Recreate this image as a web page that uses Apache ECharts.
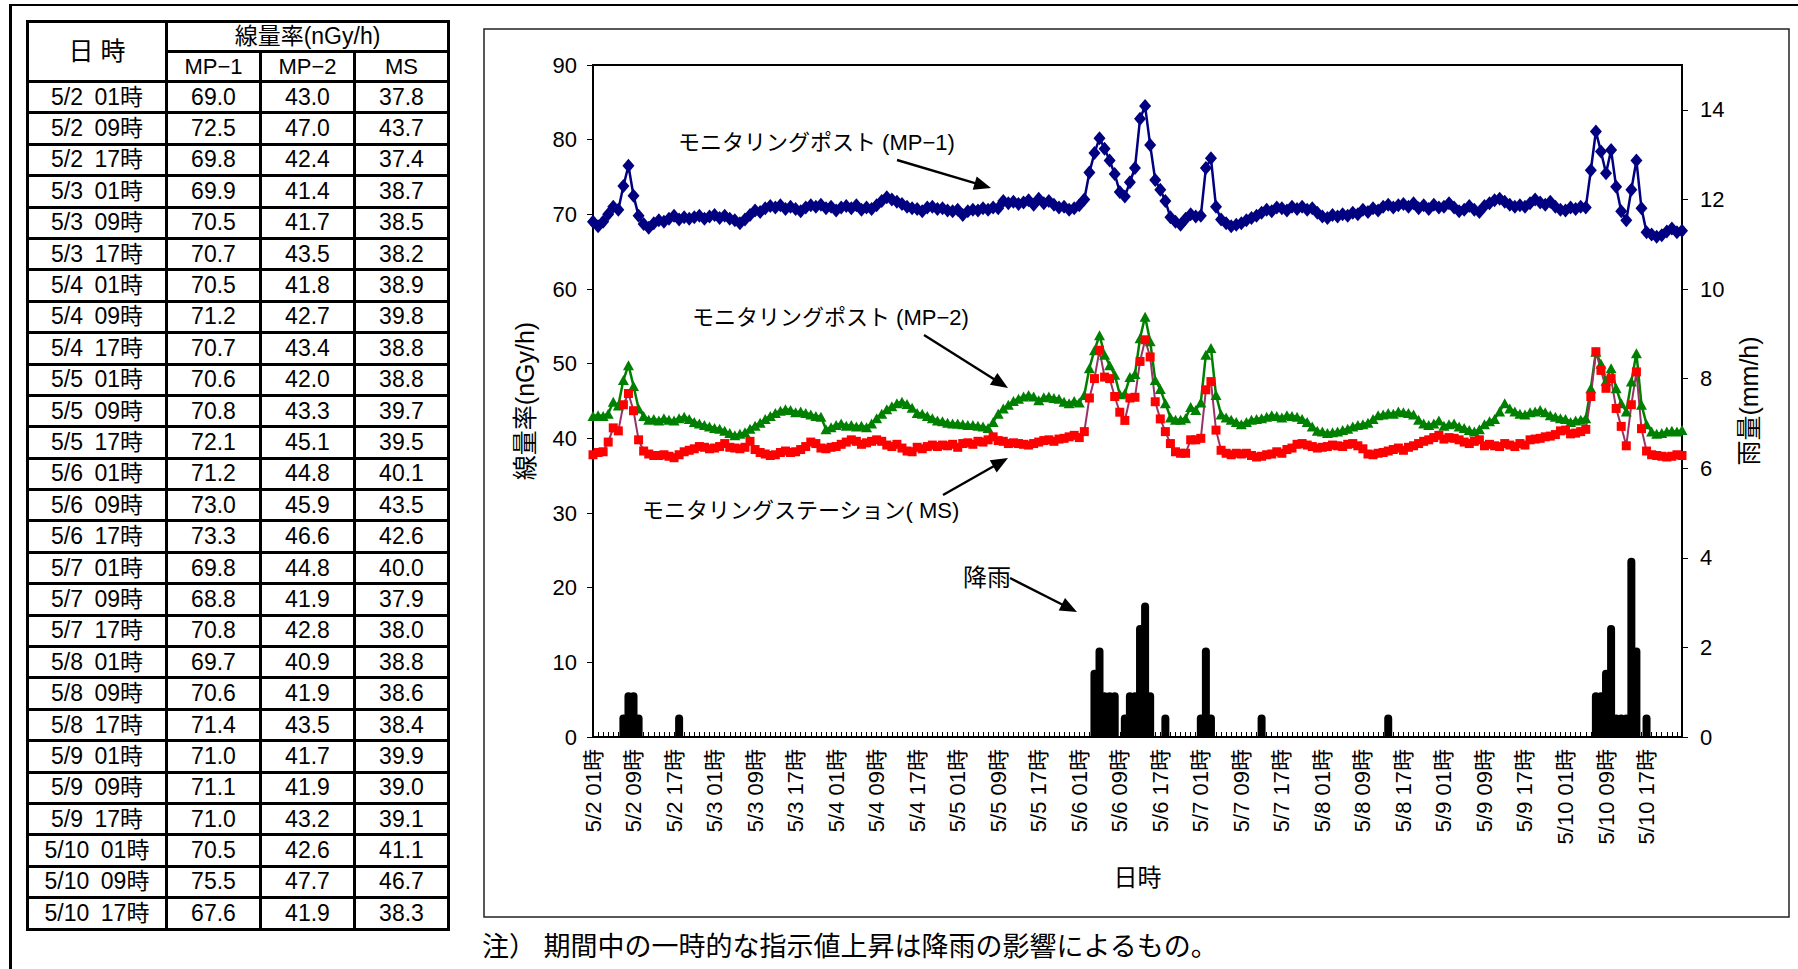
<!DOCTYPE html>
<html><head><meta charset="utf-8">
<script src="https://cdn.jsdelivr.net/npm/echarts@6/dist/echarts.min.js"></script>
<style>
html,body{margin:0;padding:0;background:#fff;}
#wrap{position:relative;width:1798px;height:969px;overflow:hidden;}
#chart{position:absolute;left:0;top:0;width:1798px;height:969px;}
#frame{position:absolute;left:9px;top:4px;width:1820px;height:1000px;border-top:2px solid #000;border-left:3px solid #000;box-sizing:border-box;}
#tbl{position:absolute;left:26px;top:20px;width:421px;height:908px;border-collapse:collapse;table-layout:fixed;
 font-family:"Liberation Sans","Noto Sans CJK JP",sans-serif;color:#000;z-index:5;}
#tbl td{border:3px solid #000;text-align:center;vertical-align:middle;padding:0;font-size:23px;line-height:1;white-space:nowrap;}
</style></head>
<body>
<div id="wrap">
<div id="chart"></div>
<div id="frame"></div>
<table id="tbl"></table>
</div>
<script>
// ---- data (hourly, 5/2 01時 .. 5/11 00時) ----
const mp1 = [
 69.0,68.4,69.0,70.0,71.0,70.6,73.8,76.5, 72.5,69.8,68.7,68.2,68.8,69.2,69.0,69.4,
 69.8,69.3,69.6,69.4,69.6,69.8,69.4,69.7, 69.9,69.5,69.8,69.4,69.2,68.8,69.3,69.9,
 70.5,70.3,70.8,71.1,70.9,71.2,70.7,71.0, 70.7,70.4,70.9,71.2,71.0,71.3,70.8,71.0,
 70.5,70.9,71.1,70.8,71.2,70.6,70.9,70.7, 71.2,71.8,72.3,72.0,71.7,71.4,71.0,70.8,
 70.7,70.4,70.9,71.0,70.7,70.8,70.5,70.4, 70.6,69.9,70.4,70.6,70.5,70.8,70.6,70.9,
 70.8,71.8,71.5,71.7,71.4,71.6,71.9,71.3, 72.1,71.5,71.8,71.3,70.9,71.0,70.6,70.8,
 71.2,72.0,75.6,78.2,80.2,78.8,77.2,75.4, 73.0,72.4,74.3,76.2,82.8,84.5,79.3,74.6,
 73.3,71.8,69.6,69.0,68.6,69.4,70.0,69.7, 69.8,76.2,77.5,71.0,69.3,68.8,68.4,68.6,
 68.8,69.2,69.5,69.8,70.2,70.6,70.4,70.9, 70.8,70.5,71.0,70.7,71.0,70.6,70.8,70.2,
 69.7,69.5,69.9,69.7,70.0,69.8,70.2,70.0, 70.6,70.3,70.8,70.5,71.0,71.3,70.9,71.2,
 71.4,71.0,71.5,70.8,71.2,70.7,71.3,70.9, 71.0,71.5,70.9,70.4,70.6,71.1,70.6,70.3,
 71.1,71.5,71.9,72.1,71.7,71.3,71.0,71.2, 71.0,71.5,72.0,71.6,71.3,71.7,71.0,70.6,
 70.5,70.9,70.7,71.0,70.9,75.9,81.1,78.4, 75.5,78.6,73.7,70.4,69.2,73.3,77.2,70.8,
 67.6,67.3,67.0,67.2,67.7,68.1,67.6,67.8
];
const mp2 = [
 43.0,43.1,43.0,43.3,44.9,44.4,47.8,49.8, 47.0,44.0,43.0,42.5,42.6,42.4,42.7,42.5,
 42.4,42.7,42.9,42.6,42.2,42.0,41.8,41.6, 41.4,41.3,41.0,40.7,40.4,40.6,40.8,41.3,
 41.7,42.1,42.6,43.0,43.4,43.7,43.9,43.8, 43.5,43.6,43.4,43.2,43.0,42.9,41.2,41.5,
 41.8,42.0,41.7,41.8,41.6,41.7,41.5,42.0, 42.7,43.3,43.9,44.3,44.7,44.9,44.6,44.1,
 43.4,43.3,43.0,42.7,42.4,42.3,42.1,42.0, 42.0,41.9,41.8,41.8,41.7,41.6,41.4,42.2,
 43.3,44.0,44.5,45.0,45.3,45.6,45.8,45.6, 45.1,45.5,45.6,45.4,45.3,44.9,44.7,45.0,
 44.8,45.8,49.4,51.8,53.8,51.2,49.8,48.5, 45.9,46.0,48.2,48.6,53.4,56.3,53.0,47.8,
 46.6,44.7,42.8,42.5,42.5,42.7,44.2,43.8, 44.8,51.2,52.1,45.8,43.2,42.8,42.5,42.2,
 41.9,42.2,42.5,42.6,42.7,42.9,43.1,43.0, 42.8,43.1,43.0,42.9,42.6,42.2,41.6,41.0,
 40.9,40.7,40.8,40.9,41.1,41.3,41.6,41.8, 41.9,42.1,42.6,43.1,43.2,43.4,43.3,43.6,
 43.5,43.4,43.2,42.5,42.0,41.8,42.0,42.4, 41.7,41.9,42.0,41.6,41.4,41.1,40.9,41.2,
 41.9,42.3,42.6,43.6,44.7,44.0,43.6,43.3, 43.2,43.5,43.6,43.8,43.5,43.1,42.9,42.7,
 42.6,42.2,42.4,42.5,42.7,46.7,51.6,50.0, 47.7,49.4,46.7,44.7,43.6,47.6,51.4,44.5,
 41.9,40.9,40.6,40.7,40.9,41.0,40.9,41.1
];
const ms = [
 37.8,38.1,38.2,39.5,41.4,41.0,44.5,46.0, 43.7,39.8,38.3,37.9,37.7,37.7,37.8,37.6,
 37.4,37.8,38.2,38.4,38.6,38.9,38.8,38.6, 38.7,38.9,39.3,38.8,38.7,38.6,38.8,39.6,
 38.5,38.1,37.9,37.7,37.8,38.1,38.3,38.1, 38.2,38.5,38.9,39.5,39.3,38.7,38.6,38.8,
 38.9,39.2,39.5,39.8,39.6,39.2,39.4,39.6, 39.8,39.6,39.1,38.9,39.2,38.7,38.3,38.2,
 38.8,38.6,38.9,39.1,38.9,39.1,39.0,39.2, 38.8,39.3,39.4,39.2,39.6,39.5,39.8,40.2,
 39.7,39.6,39.3,39.4,39.3,39.2,39.1,39.3, 39.5,39.7,39.8,39.6,39.9,40.0,40.2,40.4,
 40.1,40.9,45.4,48.0,51.8,48.2,48.0,45.6, 43.5,42.4,45.4,45.5,50.3,53.2,50.9,44.9,
 42.6,40.9,39.3,38.2,38.0,38.0,39.8,39.8, 40.0,46.5,47.6,41.1,38.4,38.0,37.8,38.0,
 37.9,38.0,37.7,37.5,37.6,37.8,37.9,38.2, 38.0,38.5,38.7,39.2,39.3,39.1,38.9,38.7,
 38.8,38.9,39.1,39.0,38.9,39.2,39.3,39.0, 38.6,37.9,37.8,38.0,38.1,38.3,38.5,38.7,
 38.4,38.8,39.0,39.3,39.6,39.8,40.1,40.4, 39.9,40.1,40.0,39.8,39.5,39.3,39.6,39.8,
 39.0,39.2,39.0,38.9,39.3,39.1,38.9,39.3, 39.1,39.8,39.9,40.0,40.2,40.3,40.5,41.0,
 41.1,40.6,40.7,40.9,41.2,45.6,51.6,49.1, 46.7,48.0,44.0,41.6,39.0,44.5,48.9,41.3,
 38.3,37.8,37.7,37.6,37.5,37.6,37.8,37.7
];
const rain = [
 0,0,0,0,0,0,0.5,1,1,0.5,0,0,0,0,0,0,0,0.5,0,0,0,0,0,0,
 0,0,0,0,0,0,0,0,0,0,0,0,0,0,0,0,0,0,0,0,0,0,0,0,
 0,0,0,0,0,0,0,0,0,0,0,0,0,0,0,0,0,0,0,0,0,0,0,0,
 0,0,0,0,0,0,0,0,0,0,0,0,0,0,0,0,0,0,0,0,0,0,0,0,
 0,0,0,1.5,2,1,1,1,0,0.5,1,1,2.5,3,1,0,0,0.5,0,0,0,0,0,0,
 0.5,2,0.5,0,0,0,0,0,0,0,0,0,0.5,0,0,0,0,0,0,0,0,0,0,0,
 0,0,0,0,0,0,0,0,0,0,0,0,0,0.5,0,0,0,0,0,0,0,0,0,0,
 0,0,0,0,0,0,0,0,0,0,0,0,0,0,0,0,0,0,0,0,0,0,0,0,
 0,0,0,0,0,0,1,1,1.5,2.5,0.5,0.5,0.5,4,2,0,0.5,0,0,0,0,0,0,0
];
// categories: hourly timestamps
const categories = [];
const tableLabels = [];
for (let i = 0; i < mp1.length; i++) {
  const t = i + 1, d = 2 + Math.floor(t / 24), h = String(t % 24).padStart(2, '0');
  categories.push(`5/${d} ${h}時`);
  tableLabels.push(`5/${d}\u2002${h}時`);
}
const labelStep = 8;

// ---- table ----
const tbl = document.getElementById('tbl');
let html = '<colgroup><col style="width:139px"><col style="width:94px"><col style="width:94px"><col style="width:94px"></colgroup>';
html += '<tr style="height:30px"><td rowspan="2" style="font-size:25px">日 時</td><td colspan="3" style="font-size:23px">線量率(nGy/h)</td></tr>';
html += '<tr style="height:30px"><td style="font-size:22px">MP−1</td><td style="font-size:22px">MP−2</td><td style="font-size:22px">MS</td></tr>';
for (let i = 0; i < mp1.length; i += labelStep) {
  html += `<tr style="height:31.4px"><td>${tableLabels[i]}</td><td>${mp1[i].toFixed(1)}</td><td>${mp2[i].toFixed(1)}</td><td>${ms[i].toFixed(1)}</td></tr>`;
}
tbl.innerHTML = html;

// ---- chart ----
const FONT = '"Liberation Sans","Noto Sans CJK JP",sans-serif';
function arrow(x1, y1, x2, y2) {
  const dx = x2 - x1, dy = y2 - y1, L = Math.hypot(dx, dy), ux = dx / L, uy = dy / L;
  const hl = 17, hw = 7;
  const bx = x2 - ux * hl, by = y2 - uy * hl;
  return [
    {type: 'line', z: 100, shape: {x1: x1, y1: y1, x2: bx + ux * 2, y2: by + uy * 2}, style: {stroke: '#000', lineWidth: 2.4}},
    {type: 'polygon', z: 100, shape: {points: [[x2, y2], [bx - uy * hw, by + ux * hw], [bx + uy * hw, by - ux * hw]]}, style: {fill: '#000'}}
  ];
}
function label(text, x, y, size) {
  return {type: 'text', z: 100, x: x, y: y, style: {text: text, fill: '#000', font: `${size}px ${FONT}`, verticalAlign: 'middle', align: 'left'}};
}
const chart = echarts.init(document.getElementById('chart'), null, {renderer: 'svg', width: 1798, height: 969});
const axisText = {color: '#000', fontSize: 22, fontFamily: FONT};
chart.setOption({
  animation: false,
  backgroundColor: 'transparent',
  textStyle: {fontFamily: FONT, color: '#000'},
  grid: {left: 593, top: 65, right: 116, bottom: 232, show: true, borderColor: '#000', borderWidth: 2, backgroundColor: 'transparent', containLabel: false},
  xAxis: {
    type: 'category', data: categories, boundaryGap: false,
    axisLine: {lineStyle: {color: '#000', width: 2}},
    axisTick: {show: true, inside: true, interval: 0, length: 5, lineStyle: {color: '#000', width: 1}},
    axisLabel: Object.assign({interval: labelStep - 1, rotate: 90, margin: 12}, axisText),
    splitLine: {show: false},
    name: '日時', nameLocation: 'middle', nameGap: 128,
    nameTextStyle: {fontSize: 24, color: '#000', fontFamily: FONT}
  },
  yAxis: [{
    type: 'value', min: 0, max: 90, interval: 10,
    axisLine: {show: true, lineStyle: {color: '#000', width: 2}},
    axisTick: {show: true, inside: false, length: 6, lineStyle: {color: '#000', width: 1}},
    axisLabel: Object.assign({margin: 16}, axisText),
    splitLine: {show: false},
    name: '線量率(nGy/h)', nameLocation: 'middle', nameGap: 56, nameRotate: 90,
    nameTextStyle: {fontSize: 25, color: '#000', fontFamily: FONT}
  }, {
    type: 'value', min: 0, max: 15, interval: 2, position: 'right',
    axisLine: {show: true, lineStyle: {color: '#000', width: 2}},
    axisTick: {show: true, inside: false, length: 6, lineStyle: {color: '#000', width: 1}},
    axisLabel: Object.assign({margin: 18, showMaxLabel: false}, axisText),
    splitLine: {show: false},
    name: '雨量(mm/h)', nameLocation: 'middle', nameGap: 54, nameRotate: 90,
    nameTextStyle: {fontSize: 25, color: '#000', fontFamily: FONT}
  }],
  series: [
    {name: '降雨', type: 'bar', yAxisIndex: 1, data: rain, barWidth: 8, silent: true,
     itemStyle: {color: '#000', borderRadius: [4, 4, 0, 0]}},
    {name: 'MP-1', type: 'line', yAxisIndex: 0, data: mp1, silent: true, showAllSymbol: true,
     symbol: 'diamond', symbolSize: [12, 14],
     lineStyle: {color: '#000080', width: 2.5}, itemStyle: {color: '#000080'}},
    {name: 'MP-2', type: 'line', yAxisIndex: 0, data: mp2, silent: true, showAllSymbol: true,
     symbol: 'triangle', symbolSize: [11, 10],
     lineStyle: {color: '#008000', width: 2.5}, itemStyle: {color: '#008000'}},
    {name: 'MS', type: 'line', yAxisIndex: 0, data: ms, silent: true, showAllSymbol: true,
     symbol: 'rect', symbolSize: 9,
     lineStyle: {color: '#993366', width: 2}, itemStyle: {color: '#FF0000'}}
  ],
  graphic: [
    {type: 'rect', z: 0, shape: {x: 484, y: 29, width: 1305, height: 888}, style: {fill: 'none', stroke: '#222', lineWidth: 1.5}},
    label('モニタリングポスト (MP−1)', 678, 142, 22),
    label('モニタリングポスト (MP−2)', 692, 317, 22),
    label('モニタリングステーション( MS)', 642, 510, 22),
    label('降雨', 963, 577, 24),
    label('注） 期間中の一時的な指示値上昇は降雨の影響によるもの。', 482, 947, 27),
    ...arrow(897, 160, 991, 188),
    ...arrow(924, 335, 1008, 388),
    ...arrow(943, 495, 1008, 458),
    ...arrow(1010, 578, 1077, 612)
  ]
});
</script>
</body></html>
